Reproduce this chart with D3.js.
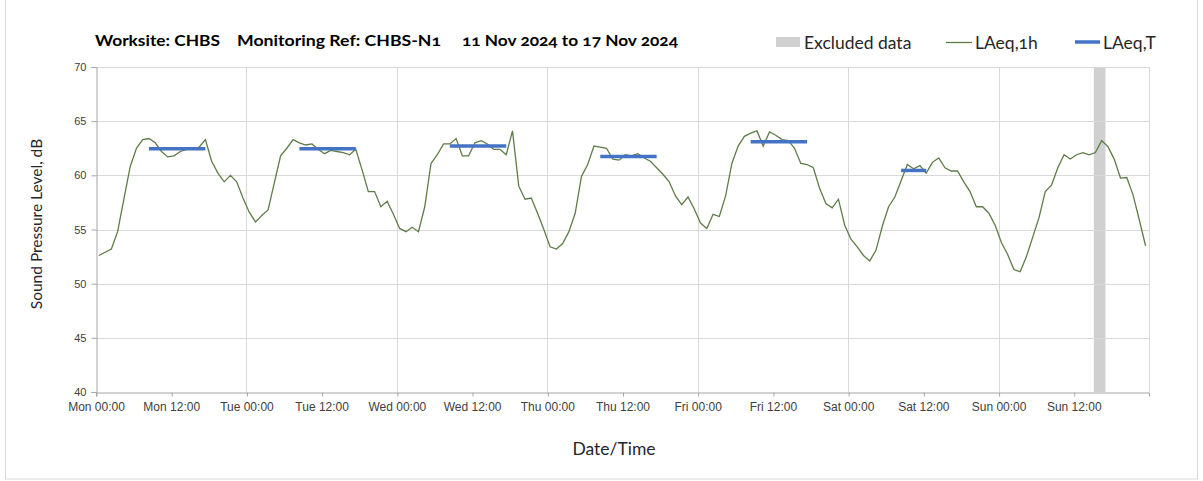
<!DOCTYPE html>
<html>
<head>
<meta charset="utf-8">
<script src="https://cdn.jsdelivr.net/npm/d3@7"></script>
<style>
  html, body { margin: 0; padding: 0; background: #fff; }
  svg { display: block; font-family: Lato, "Open Sans", sans-serif; font-variant-numeric: oldstyle-nums; }
</style>
</head>
<body>
<svg id="chart" width="1203" height="481"></svg>
<script>
// ---- Data ----
const titleParts = ["Worksite: CHBS", "Monitoring Ref: CHBS-N1", "11 Nov 2024 to 17 Nov 2024"];
const seriesNames = ["Excluded data", "LAeq,1h", "LAeq,T"];
const xTickHours = [0, 12, 24, 36, 48, 60, 72, 84, 96, 108, 120, 132, 144, 156];
const xTickLabels = ["Mon 00:00", "Mon 12:00", "Tue 00:00", "Tue 12:00", "Wed 00:00", "Wed 12:00",
  "Thu 00:00", "Thu 12:00", "Fri 00:00", "Fri 12:00", "Sat 00:00", "Sat 12:00", "Sun 00:00", "Sun 12:00"];
const yTicks = [40, 45, 50, 55, 60, 65, 70];
// hourly LAeq,1h values, Mon 00:00 .. Sun 23:00
const laeq1h = [
  52.6, 52.9, 53.2, 54.8, 57.8, 60.8, 62.5, 63.3, 63.4, 63.0, 62.2, 61.7, 61.8, 62.2, 62.4, 62.4, 62.6, 63.3, 61.3, 60.2, 59.4, 60.0, 59.4, 57.9,
  56.6, 55.7, 56.3, 56.8, 59.3, 61.8, 62.5, 63.3, 63.0, 62.8, 62.9, 62.4, 62.0, 62.3, 62.2, 62.1, 61.9, 62.4, 60.5, 58.5, 58.5, 57.1, 57.6, 56.4,
  55.1, 54.8, 55.2, 54.8, 57.1, 61.1, 61.9, 62.9, 62.9, 63.4, 61.8, 61.8, 63.0, 63.2, 62.9, 62.4, 62.4, 61.9, 64.1, 59.0, 57.8, 57.9, 56.5, 55.0,
  53.4, 53.2, 53.7, 54.8, 56.5, 59.9, 61.0, 62.7, 62.6, 62.5, 61.5, 61.4, 61.9, 61.8, 62.0, 61.6, 61.3, 60.7, 60.1, 59.4, 58.1, 57.3, 58.0, 56.9,
  55.6, 55.1, 56.4, 56.2, 58.1, 61.1, 62.7, 63.6, 63.9, 64.1, 62.7, 64.0, 63.7, 63.3, 63.2, 62.5, 61.1, 61.0, 60.7, 58.8, 57.4, 57.0, 57.8, 55.4,
  54.1, 53.4, 52.6, 52.1, 53.1, 55.3, 57.1, 58.0, 59.5, 61.0, 60.6, 60.9, 60.2, 61.2, 61.6, 60.7, 60.4, 60.4, 59.4, 58.5, 57.1, 57.1, 56.5, 55.4,
  53.8, 52.7, 51.3, 51.1, 52.5, 54.3, 56.1, 58.5, 59.1, 60.7, 61.9, 61.5, 61.9, 62.1, 61.9, 62.1, 63.2, 62.65, 61.5, 59.75, 59.8, 58.2, 55.9, 53.5
];
// LAeq,T periods: first and last hourly index covered, and level
const laeqTFirst = [8, 32, 56, 80, 104, 128];
const laeqTLast  = [17, 41, 65, 89, 113, 132];
const laeqTValue = [62.45, 62.45, 62.7, 61.75, 63.1, 60.45];
// Excluded data period (hours from Mon 00:00)
const excludedStart = [159.2];
const excludedEnd = [161.05];

// ---- Layout ----
const svg = d3.select("#chart");
const m = { left: 96, right: 1149, top: 67, bottom: 392 };
const x = d3.scaleLinear().domain([0, 168]).range([m.left, m.right]);
const y = d3.scaleLinear().domain([40, 70]).range([m.bottom, m.top]);
const ptOffset = 0.45; // hourly values plotted within their hour

// outer border
svg.append("rect").attr("x", 5.5).attr("y", -2).attr("width", 1192).attr("height", 481)
  .attr("fill", "none").attr("stroke", "#d9d9d9");

// excluded band
svg.append("g").selectAll("rect").data(excludedStart).join("rect")
  .attr("x", (d) => x(d)).attr("y", m.top)
  .attr("width", (d, i) => x(excludedEnd[i]) - x(d))
  .attr("height", m.bottom - m.top)
  .attr("fill", "#d0d0d0");

// gridlines
svg.append("g").selectAll("line").data(yTicks.filter(v => v > 40)).join("line")
  .attr("x1", m.left).attr("x2", m.right)
  .attr("y1", d => Math.round(y(d)) + 0.5).attr("y2", d => Math.round(y(d)) + 0.5)
  .attr("stroke", "#d9d9d9");
const dayLines = d3.range(24, 169, 24);
svg.append("g").selectAll("line").data(dayLines).join("line")
  .attr("y1", m.top).attr("y2", m.bottom)
  .attr("x1", d => Math.round(x(d)) + 0.5).attr("x2", d => Math.round(x(d)) + 0.5)
  .attr("stroke", "#d9d9d9");

// axes
const xAxis = d3.axisBottom(x).tickValues(xTickHours).tickSize(4).tickPadding(6)
  .tickFormat((d, i) => xTickLabels[i]);
const gx = svg.append("g").attr("transform", `translate(0,${m.bottom + 0.5})`).call(xAxis);
gx.select(".domain").attr("stroke", "#a6a6a6");
gx.selectAll(".tick line").attr("stroke", "#a6a6a6").attr("transform", "translate(0.5,0)");
gx.selectAll(".tick text").attr("fill", "#404040").style("font-size", "12px");

const yAxis = d3.axisLeft(y).tickValues(yTicks).tickSize(5).tickPadding(5);
const gy = svg.append("g").attr("transform", `translate(${m.left + 0.5},0)`).call(yAxis);
gy.select(".domain").attr("stroke", "#a6a6a6");
gy.selectAll(".tick line").attr("stroke", "#a6a6a6");
gy.selectAll(".tick text").attr("fill", "#404040").style("font-size", "11px");

// LAeq,1h line
const line = d3.line().x((d, i) => x(i + ptOffset)).y(d => y(d));
svg.append("path").datum(laeq1h).attr("d", line)
  .attr("fill", "none").attr("stroke", "#5e7d46").attr("stroke-width", 1.3);

// LAeq,T bars
svg.append("g").selectAll("line").data(laeqTValue).join("line")
  .attr("x1", (d, i) => x(laeqTFirst[i] + ptOffset))
  .attr("x2", (d, i) => x(laeqTLast[i] + ptOffset))
  .attr("y1", d => y(d)).attr("y2", d => y(d))
  .attr("stroke", "#4472c4").attr("stroke-width", 3.5);

// axis titles
svg.append("text").attr("x", 614).attr("y", 455).attr("text-anchor", "middle")
  .style("font-size", "17.5px").attr("fill", "#262626").text("Date/Time");
svg.append("text").attr("transform", "translate(42,224) rotate(-90)").attr("text-anchor", "middle")
  .style("font-size", "15.5px").attr("fill", "#262626").text("Sound Pressure Level, dB");

// title
const titleX = [95, 237, 462];
const titleW = [125, 204, 216];
svg.append("g").selectAll("text").data(titleParts).join("text")
  .attr("x", (d, i) => titleX[i]).attr("y", 46)
  .attr("textLength", (d, i) => titleW[i]).attr("lengthAdjust", "spacingAndGlyphs")
  .style("font-size", "15px").style("font-weight", "bold").attr("fill", "#000").text(d => d);

// legend
const lg = svg.append("g");
lg.append("rect").attr("x", 776).attr("y", 37).attr("width", 24).attr("height", 10).attr("fill", "#d0d0d0");
lg.append("line").attr("x1", 946).attr("x2", 972).attr("y1", 42.5).attr("y2", 42.5).attr("stroke", "#5e7d46").attr("stroke-width", 1.3);
lg.append("line").attr("x1", 1075).attr("x2", 1100).attr("y1", 42).attr("y2", 42).attr("stroke", "#4472c4").attr("stroke-width", 3.5);
const legX = [804, 975, 1103];
lg.selectAll("text").data(seriesNames).join("text")
  .attr("x", (d, i) => legX[i]).attr("y", 48.5)
  .style("font-size", "17.5px").attr("fill", "#262626").text(d => d);
</script>
</body>
</html>
